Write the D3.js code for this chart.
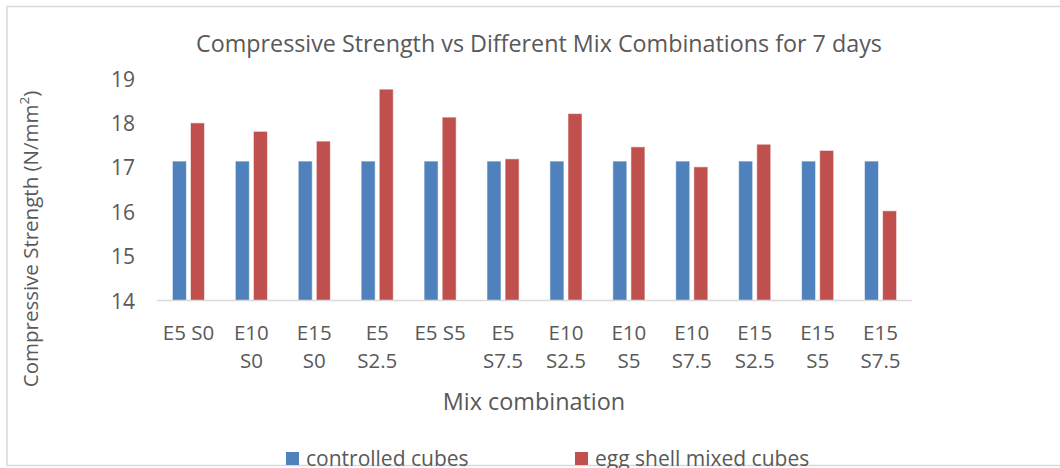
<!DOCTYPE html>
<html>
<head>
<meta charset="utf-8">
<script src="https://cdn.jsdelivr.net/npm/d3@7"></script>
<style>
  html, body { margin: 0; padding: 0; background: #fff; }
  svg { display: block; }
  text { font-family: "Open Sans", sans-serif; fill: #595959; }
</style>
</head>
<body>
<svg id="chart" width="1060" height="468"></svg>
<script>
// ---- data ----
const categories = ["E5 S0", "E10 S0", "E15 S0", "E5 S2.5", "E5 S5", "E5 S7.5",
                    "E10 S2.5", "E10 S5", "E10 S7.5", "E15 S2.5", "E15 S5", "E15 S7.5"];
const seriesNames = ["controlled cubes", "egg shell mixed cubes"];
const controlledCubes = [17.14, 17.14, 17.14, 17.14, 17.14, 17.14, 17.14, 17.14, 17.14, 17.14, 17.14, 17.14];
const eggShellMixedCubes = [18.0, 17.81, 17.59, 18.76, 18.13, 17.19, 18.21, 17.46, 17.01, 17.52, 17.38, 16.02];
const yTicks = [14, 15, 16, 17, 18, 19];
const seriesColors = ["#4f81bd", "#c0504d"];
const chartTitle = "Compressive Strength vs Different Mix Combinations for 7 days";
const xTitle = "Mix combination";

const svg = d3.select("#chart");

// outer chart border
svg.append("rect")
  .attr("x", 7).attr("y", 6.5).attr("width", 1070).attr("height", 459)
  .attr("fill", "#fff").attr("stroke", "#d9d9d9").attr("stroke-width", 1.5);

const plot = { left: 157, right: 912, top: 78.5, bottom: 300.5 };

const y = d3.scaleLinear().domain([14, 19]).range([plot.bottom, plot.top]);
const x0 = d3.scaleBand().domain(categories).range([plot.left, plot.right])
  .paddingInner(0.49).paddingOuter(0.245);
const x1 = d3.scaleBand().domain(seriesNames).range([0, x0.bandwidth()]).paddingInner(0.226);

// title
svg.append("text")
  .attr("x", 539).attr("y", 52)
  .attr("text-anchor", "middle")
  .style("font-size", "23.3px")
  .text(chartTitle);

// y axis (labels only)
const yAxis = d3.axisLeft(y).tickValues(yTicks).tickSize(0).tickPadding(0).tickFormat(d3.format("d"));
const yg = svg.append("g").attr("transform", `translate(${135},0)`).call(yAxis);
yg.select(".domain").remove();
yg.selectAll("text").style("font-size", "21px").style("font-family", "'Open Sans', sans-serif")
  .attr("fill", "#595959").attr("dy", "0.36em");

// bars
const rows = categories.map((c, i) => ({ cat: c, vals: [controlledCubes[i], eggShellMixedCubes[i]] }));
const groups = svg.append("g").selectAll("g").data(rows).join("g")
  .attr("transform", d => `translate(${x0(d.cat)},0)`);
groups.selectAll("rect")
  .data(d => d.vals.map((v, j) => ({ key: seriesNames[j], v, j })))
  .join("rect")
  .attr("x", d => x1(d.key))
  .attr("y", d => y(d.v))
  .attr("width", x1.bandwidth())
  .attr("height", d => y(14) - y(d.v))
  .attr("fill", d => seriesColors[d.j])
  .attr("stroke", "rgba(255,255,255,0.55)")
  .attr("stroke-width", 1);

// x axis
const xAxis = d3.axisBottom(x0).tickSize(0).tickPadding(0);
const xg = svg.append("g").attr("transform", `translate(0,${plot.bottom})`).call(xAxis);
xg.select(".domain").attr("stroke", "#d9d9d9").attr("stroke-width", 1.5)
  .attr("d", `M${plot.left},0H${plot.right}`);
const step = x0.step();
xg.selectAll(".tick text").each(function(d) {
  const t = d3.select(this);
  t.text(null).attr("y", 0).attr("dy", null)
    .style("font-size", "20.5px").style("font-family", "'Open Sans', sans-serif").attr("fill", "#595959");
  // wrap the label into lines that fit the category width
  const words = d.split(" ");
  const lines = [];
  let cur = [];
  const probe = t.append("tspan");
  words.forEach(w => {
    const trial = cur.concat([w]).join(" ");
    probe.text(trial);
    if (cur.length && probe.node().getComputedTextLength() > step - 4) {
      lines.push(cur.join(" "));
      cur = [w];
    } else {
      cur.push(w);
    }
  });
  lines.push(cur.join(" "));
  probe.remove();
  lines.forEach((ln, k) => {
    t.append("tspan").attr("x", 0).attr("y", 39 + k * 28.5).text(ln);
  });
});

// x title
svg.append("text")
  .attr("x", 534).attr("y", 410)
  .attr("text-anchor", "middle")
  .style("font-size", "23.4px")
  .text(xTitle);

// y title
const yt = svg.append("text")
  .attr("transform", "translate(38,239) rotate(-90)")
  .attr("text-anchor", "middle")
  .style("font-size", "20.5px");
yt.append("tspan").text("Compressive Strength (N/mm");
yt.append("tspan").attr("baseline-shift", "super").style("font-size", "13.5px").text("2");
yt.append("tspan").text(")");

// legend
const legendX = [286, 575];
const lg = svg.append("g").selectAll("g").data(seriesNames).join("g")
  .attr("transform", (d, i) => `translate(${legendX[i]},452)`);
lg.append("rect").attr("width", 13).attr("height", 13).attr("fill", (d, i) => seriesColors[i]);
lg.append("text").attr("x", 20).attr("y", 13.8).style("font-size", "21px").text(d => d);
</script>
</body>
</html>
